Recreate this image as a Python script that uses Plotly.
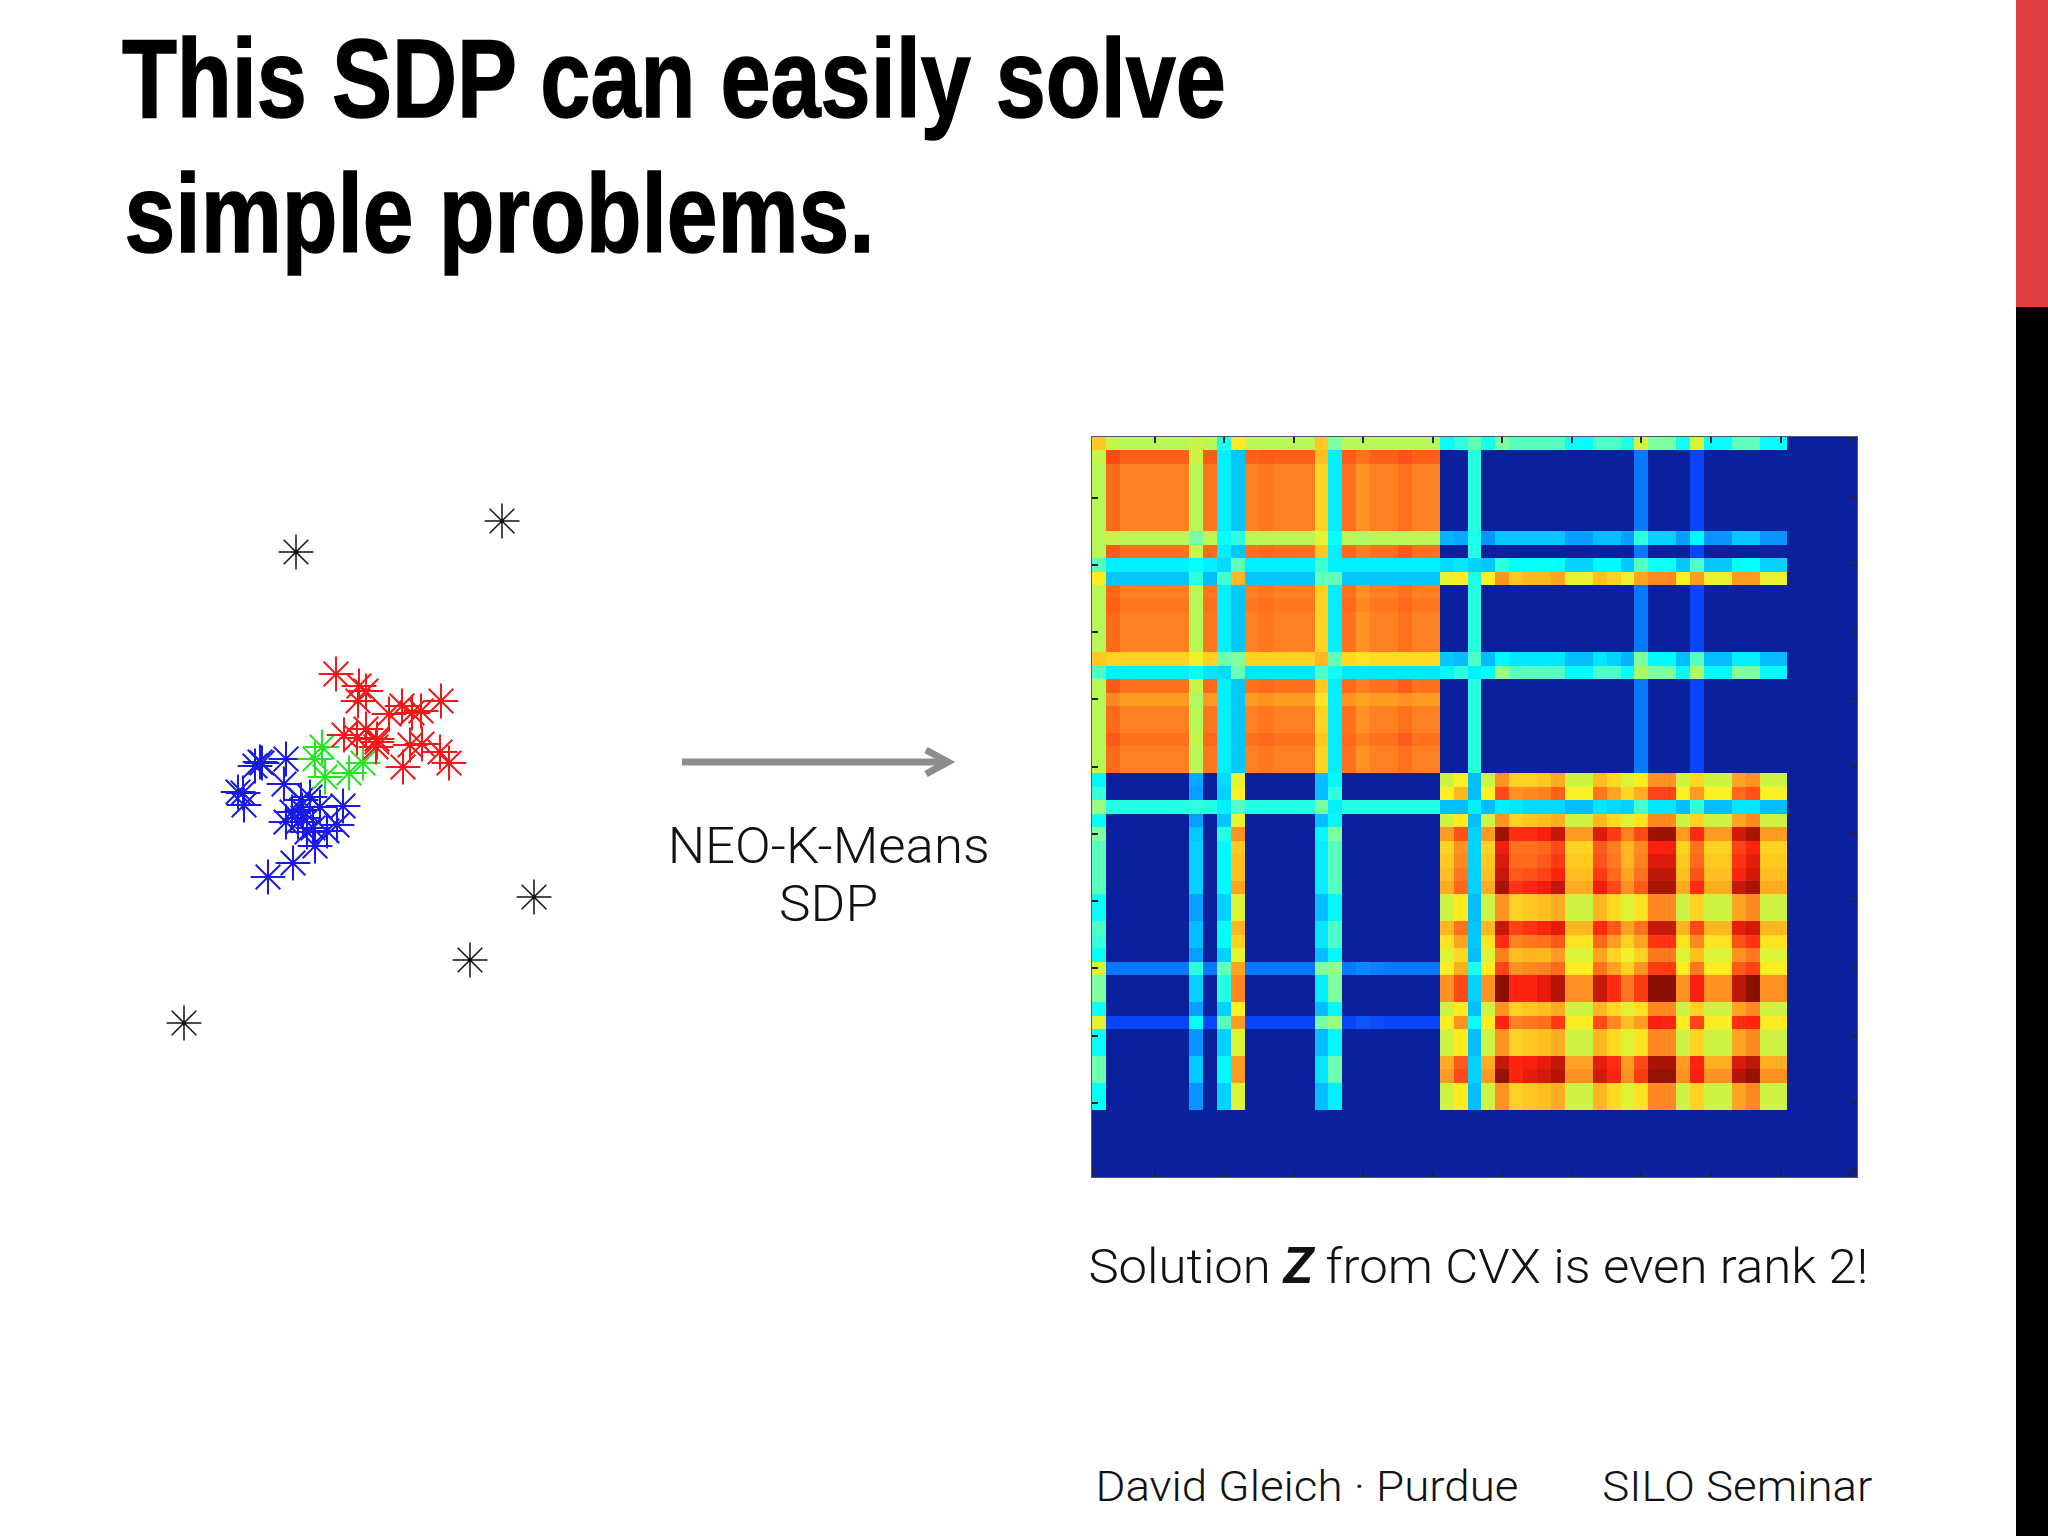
import json
import plotly.graph_objects as go

# ---------- scatter data (chart units) ----------
red_x = [206,229,236,228,259,272,282,291,311,214,227,236,247,247,246,280,292,310,319,273]
red_y = [406,394,389,379,366,374,367,369,379,345,342,351,341,338,333,335,336,328,317,313]
green_x = [192,185,195,219,233]
green_y = [333,321,303,307,317]
blue_x = [156,132,130,125,154,108,113,114,213,180,171,190,162,172,173,156,168,207,197,183,177,185,163,138]
blue_y = [321,317,318,314,296,288,287,275,274,283,280,273,268,270,262,258,258,255,249,252,248,234,217,203]
black_x = [166,372,404,340,54]
black_y = [528,559,183,120,57]

# ---------- matrix Z, values in percent of the colour range ----------
L0  = [67,56,55,55,55,55,55,57,55,40,63,55,55,55,55,55,67,50,55,55,55,55,55,55,55]
L1  = [56,82,79,79,79,79,79,57,80,36,32,79,80,79,79,79,68,36,80,77,79,79,81,79,79]
LO  = [55,78,75,75,75,75,75,55,76,36,32,75,76,75,75,75,66,36,77,73,75,75,77,75,75]
L7  = [55,56,55,55,55,55,55,49,55,38,42,55,55,55,55,55,60,38,55,54,55,55,55,55,55]
L8  = [55,80,77,77,77,77,77,56,78,36,32,77,78,77,77,77,67,36,78,75,77,77,80,77,77]
L9  = [46,36,36,36,36,36,36,38,36,34,47,36,36,36,36,36,44,36,36,36,36,36,36,36,36]
L10 = [63,32,32,32,32,32,32,42,31,44,69,32,32,32,32,32,47,47,32,32,32,32,32,32,32]
L12 = [55,79,76,76,76,76,76,55,77,36,32,76,77,76,76,76,66,36,78,74,76,76,78,76,76]
L16 = [67,66,66,66,66,66,66,61,66,48,50,66,66,66,66,66,69,47,65,64,65,65,65,65,65]
L17 = [45,36,36,36,36,36,36,38,35,34,48,35,35,35,35,35,45,39,35,35,35,35,35,35,35]
L19 = [55,74,72,72,72,72,72,54,72,36,32,72,73,72,72,72,64,36,73,71,72,72,73,72,72]

TAIL = [3,3,3,3,3]
RG  = [3,3,41,3,3,3,3,3,3,3,3,3,3,3,24,3,3,3,18,3,3,3,3,3,3]
R0  = [38,42,47,40,50,46,46,46,46,38,38,45,45,40,58,50,50,39,58,38,38,47,47,38,38]
R7  = [30,29,40,27,32,32,32,32,32,28,28,31,31,28,42,33,33,28,37,27,27,32,32,27,27]
R9  = [34,35,33,32,42,38,38,38,38,33,33,37,37,32,46,39,39,32,45,32,32,38,38,33,33]
R10 = [60,63,40,62,73,67,69,69,71,60,60,68,66,60,71,74,74,62,72,60,60,72,72,60,60]
R16 = [32,31,45,31,37,35,35,35,35,31,31,35,33,30,50,37,37,31,46,31,31,36,36,31,31]
R17 = [37,42,36,38,52,46,46,46,46,37,37,45,45,38,54,50,50,37,54,37,37,50,50,37,37]

rows_top = [
    L0+R0, L1+RG, LO+RG, LO+RG, LO+RG, LO+RG, LO+RG, L7+R7, L8+RG, L9+R9, L10+R10,
    LO+RG, L12+RG, LO+RG, LO+RG, LO+RG, L16+R16, L17+R17, L8+RG, L19+RG, LO+RG, LO+RG,
    L8+RG, LO+RG, LO+RG,
]

WEAK_R = [57,63,31,57,73,66,67,68,70,57,57,69,65,59,64,74,74,57,66,57,57,71,74,57,57]

r25 = [37,3,3,3,3,3,3,29,3,34,60,3,3,3,3,3,31,37,3,4,4,3,3,3,3] + [57,62,31,57,73,66,66,67,70,57,57,68,65,59,63,73,73,57,65,57,57,71,73,57,57]
r26 = [43,3,3,3,3,3,3,28,3,33,62,3,3,3,3,3,31,42,3,4,4,3,3,3,3] + [62,69,31,62,82,73,74,75,79,62,62,76,71,65,70,83,83,62,72,62,62,78,81,62,62]
r27 = [52,41,41,41,41,41,41,42,41,36,46,41,41,41,41,41,49,36,41,41,41,41,41,41,41] + [31,31,36,31,36,35,34,34,34,31,31,35,34,33,44,35,35,31,42,31,31,35,35,31,31]
r28 = [38,3,3,3,3,3,3,28,3,32,60,3,3,3,3,3,31,37,3,5,4,3,3,3,3] + WEAK_R
r29 = [50,3,3,3,3,3,3,32,3,41,73,3,3,3,3,3,37,50,3,6,5,3,3,3,3] + [72,81,33,72,97,86,86,88,93,72,72,91,84,75,82,97,97,72,86,72,72,92,96,72,72]
r30 = [46,3,3,3,3,3,3,33,3,37,67,3,3,3,3,3,36,46,3,6,5,3,3,3,3] + [66,73,33,66,89,77,77,78,82,66,66,80,75,69,74,88,88,66,77,66,66,83,87,66,66]
r31 = [46,3,3,3,3,3,3,33,3,37,68,3,3,3,3,3,36,46,3,6,5,3,3,3,3] + [67,74,33,67,91,78,78,80,84,67,67,81,76,69,75,91,91,67,78,67,67,85,90,67,67]
r32 = [46,3,3,3,3,3,3,33,3,37,68,3,3,3,3,3,36,46,3,6,5,3,3,3,3] + [68,76,33,68,93,80,81,83,87,68,68,84,78,71,77,94,94,68,81,68,68,87,92,68,68]
r33 = [46,3,3,3,3,3,3,33,3,37,71,3,3,3,3,3,36,46,3,6,5,3,3,3,3] + [70,78,33,70,96,85,87,89,94,70,70,89,82,73,80,96,96,70,86,70,70,93,96,70,70]
r34 = [38,3,3,3,3,3,3,28,3,33,59,3,3,3,3,3,31,37,3,5,4,3,3,3,3] + WEAK_R
r35 = r34
r36 = [45,3,3,3,3,3,3,31,3,38,69,3,3,3,3,3,35,45,3,6,5,3,3,3,3] + [69,77,32,69,93,83,85,87,90,69,69,86,80,71,77,93,93,69,82,69,69,90,92,69,69]
r37 = [43,3,3,3,3,3,3,31,3,38,66,3,3,3,3,3,35,45,3,5,5,3,3,3,3] + [64,71,32,64,86,75,76,77,80,64,64,78,72,66,71,85,85,64,74,64,64,81,85,64,64]
r38 = [38,3,3,3,3,3,3,28,3,33,60,3,3,3,3,3,31,37,3,5,4,3,3,3,3] + [59,65,31,59,75,68,69,69,72,59,59,71,66,61,66,76,76,59,68,59,59,73,76,59,59]
r39 = [59,24,24,24,24,24,24,42,24,47,71,24,24,24,24,24,50,52,24,26,25,24,24,24,24] + [63,70,40,63,83,73,74,75,78,63,63,77,71,66,73,84,84,63,76,63,63,80,83,63,63]
r40 = [50,3,3,3,3,3,3,33,3,41,74,3,3,3,3,3,36,50,3,6,5,3,3,3,3] + [73,82,33,73,99,87,87,90,95,73,73,93,86,76,84,99,99,73,88,73,73,94,99,73,73]
r41 = r40
r42 = [39,3,3,3,3,3,3,28,3,33,62,3,3,3,3,3,31,37,3,5,4,3,3,3,3] + WEAK_R
r43 = [59,18,18,18,18,18,18,38,18,46,72,18,18,18,18,18,49,52,18,20,19,18,18,18,18] + [63,73,38,63,87,75,76,77,84,63,63,82,74,68,72,88,87,63,83,63,63,86,87,63,63]
r44 = [38,3,3,3,3,3,3,27,3,33,59,3,3,3,3,3,31,37,3,5,4,3,3,3,3] + WEAK_R
r45 = r44
r46 = [48,3,3,3,3,3,3,32,3,37,72,3,3,3,3,3,35,48,3,6,5,3,3,3,3] + [70,80,33,70,93,87,88,90,93,71,71,90,86,72,82,96,96,72,87,70,70,91,94,70,70]
r47 = [48,3,3,3,3,3,3,32,3,37,72,3,3,3,3,3,35,48,3,6,5,3,3,3,3] + [72,82,33,72,98,87,90,92,95,73,73,92,87,73,84,98,98,73,88,73,73,95,98,73,73]
r48 = [38,3,3,3,3,3,3,27,3,33,59,3,3,3,3,3,31,36,3,5,4,3,3,3,3] + WEAK_R
r49 = r48

rows_bottom = [r25,r26,r27,r28,r29,r30,r31,r32,r33,r34,r35,r36,r37,r38,r39,r40,r41,r42,r43,r44,r45,r46,r47,r48,r49]
BLANK = [3,3,3,3,3] * 11
Z = [r + TAIL for r in rows_top] + [r + TAIL for r in rows_bottom] + [BLANK, BLANK, BLANK, BLANK, BLANK]

axis_labels = list(range(1, 56))
tick_positions = [5,10,15,20,25,30,35,40,45,50,55]

W, H = 2048, 1536
def fx(p): return p / W
def fy(p): return 1 - p / H

jet = [
    [0.00, "#0a209c"], [0.06, "#0a209c"], [0.125, "#0c18f0"], [0.25, "#0880ff"],
    [0.375, "#00ffff"], [0.50, "#80ffa0"], [0.56, "#c4f548"], [0.625, "#fff020"], [0.75, "#ff8020"],
    [0.875, "#ff2010"], [1.00, "#801000"],
]

fig = go.Figure()
fig.add_trace(go.Heatmap(z=Z, x=axis_labels, y=axis_labels, colorscale=jet, zmin=0, zmax=100,
                         showscale=False, hoverinfo="skip", xaxis="x", yaxis="y"))

def stars(x, y, color, width):
    fig.add_trace(go.Scatter(x=x, y=y, mode="markers", xaxis="x2", yaxis="y2", showlegend=False,
                             hoverinfo="skip",
                             marker=dict(symbol="asterisk-open", size=29, color=color,
                                         line=dict(color=color, width=width))))
stars(black_x, black_y, "#111111", 1.5)
stars(blue_x, blue_y, "#1a1ae6", 2)
stars(green_x, green_y, "#22e622", 2)
stars(red_x, red_y, "#f01818", 2)

hm_axis = dict(tickmode="array", tickvals=tick_positions, showticklabels=False, ticks="inside",
               ticklen=6, tickwidth=1.5, tickcolor="#222222", showgrid=False, zeroline=False,
               showline=True, mirror="ticks", linecolor="#4a5a70", linewidth=1)
fig.update_layout(
    width=W, height=H, margin=dict(l=0, r=0, t=0, b=0), paper_bgcolor="#ffffff", plot_bgcolor="#ffffff",
    showlegend=False,
    xaxis=dict(domain=[fx(1092), fx(1857)], range=[0.5, 55.5], **hm_axis),
    yaxis=dict(domain=[fy(1177), fy(437)], range=[55.5, 0.5], **hm_axis),
    xaxis2=dict(domain=[fx(130), fx(600)], range=[0, 470], visible=False),
    yaxis2=dict(domain=[fy(1080), fy(480)], range=[0, 600], visible=False),
    shapes=[
        dict(type="rect", xref="paper", yref="paper", x0=fx(2016), x1=1, y0=fy(307), y1=1,
             fillcolor="#e04044", line_width=0, layer="above"),
        dict(type="rect", xref="paper", yref="paper", x0=fx(2016), x1=1, y0=0, y1=fy(307),
             fillcolor="#000000", line_width=0, layer="above"),
        dict(type="line", xref="paper", yref="paper", x0=fx(682), x1=fx(948), y0=fy(762), y1=fy(762),
             line=dict(color="#8e8c8e", width=7)),
        dict(type="path", xref="paper", yref="paper",
             path=f"M {fx(926)} {fy(750)} L {fx(948)} {fy(762)} L {fx(926)} {fy(774)}",
             line=dict(color="#8e8c8e", width=7)),
    ],
)

squeeze = {}
def text(cx, y, s, size, length, family="Roboto", weight=300, color="#111111"):
    fig.add_annotation(xref="paper", yref="paper", x=fx(cx), y=fy(y), text=s, showarrow=False,
                       xanchor="center", yanchor="middle", borderpad=0, borderwidth=0,
                       font=dict(family=family, size=size, color=color, weight=weight))
    squeeze[s.replace("<b><i>", "").replace("</i></b>", "")] = length

TITLE_1 = "This SDP can easily solve"
TITLE_2 = "simple problems."
text(674, 78, TITLE_1, 112, 1104, family="Liberation Sans", weight=700, color="#000000")
text(499, 214, TITLE_2, 112, 750, family="Liberation Sans", weight=700, color="#000000")
text(828, 846, "NEO-K-Means", 50, 322)
text(828, 904, "SDP", 50, 99)
text(1478, 1266, "Solution <b><i>Z</i></b> from CVX is even rank 2!", 49, 780)
text(1307, 1486, "David Gleich · Purdue", 43, 423)
text(1737, 1486, "SILO Seminar", 43, 270)

fit_text = ("document.body.style.margin='0';"
            "var L=" + json.dumps(squeeze, ensure_ascii=False) + ";"
            "var H=" + json.dumps([TITLE_1, TITLE_2]) + ";"
            "document.querySelectorAll('.annotation-text').forEach(function(t){"
            "var n=L[t.textContent];if(n){t.setAttribute('textLength',n);"
            "t.setAttribute('lengthAdjust','spacingAndGlyphs');"
            "if(H.indexOf(t.textContent)>=0){t.style.stroke='#000';t.style.strokeWidth='1.5px';}}});")
fig.write_html("out.html", config=dict(displayModeBar=False), post_script=fit_text)
